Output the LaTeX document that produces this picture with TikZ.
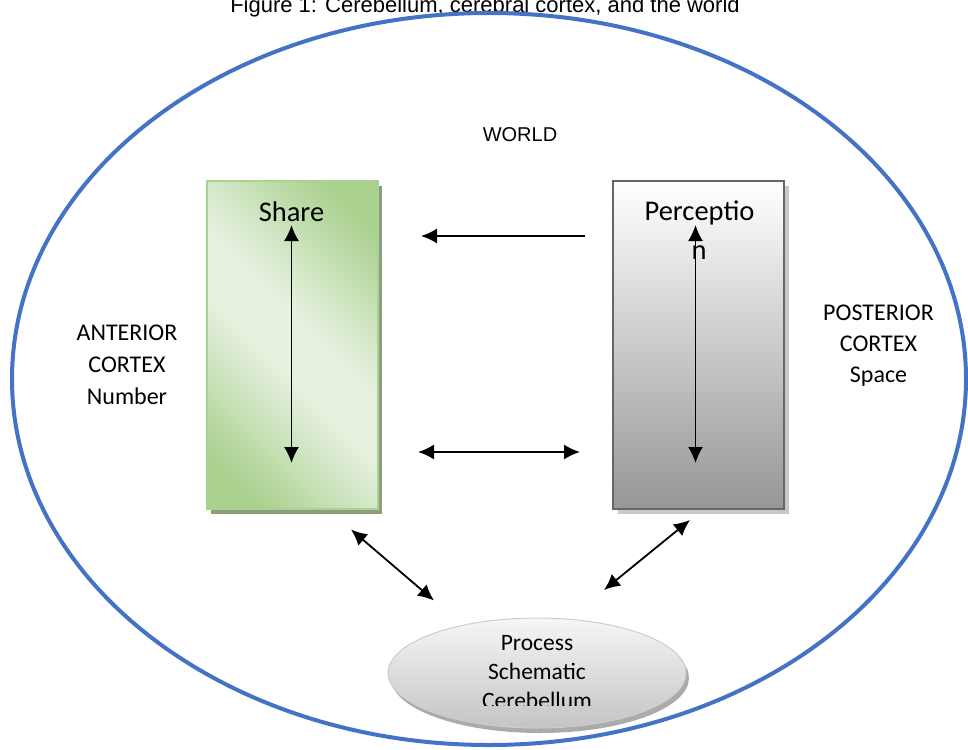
\documentclass[tikz,border=0pt]{standalone}
\usepackage{fontspec}
\setmainfont{Liberation Sans}
\newfontfamily\calib{Carlito}
\usetikzlibrary{arrows.meta,shapes.geometric,shadows}
\definecolor{worldblue}{RGB}{68,114,196}
\definecolor{gD}{RGB}{169,208,142}
\definecolor{gL}{RGB}{230,241,223}
\definecolor{gBorder}{RGB}{172,210,146}
\definecolor{gShadow}{RGB}{140,158,128}
\definecolor{pBorder}{RGB}{102,102,102}
\definecolor{pShadow}{RGB}{200,200,200}
\definecolor{pBottom}{RGB}{150,150,150}
\definecolor{eTop}{RGB}{246,246,246}
\definecolor{eBottom}{RGB}{196,196,196}
\definecolor{eBorder}{RGB}{205,205,205}
\definecolor{eShadow}{RGB}{150,150,150}
\pgfdeclarehorizontalshading{greenband}{100bp}{color(0bp)=(gD); color(22bp)=(gD); color(45bp)=(gL); color(55bp)=(gL); color(78bp)=(gD); color(100bp)=(gD)}
\begin{document}
\begin{tikzpicture}[x=1pt,y=-1pt,
  tip/.tip={Latex[length=16pt,width=15pt]},
  dblarrow/.style={line width=1.8pt,tip-tip},
  onearrow/.style={line width=1.8pt,-tip},
  lbl/.style={inner sep=0pt,anchor=base,font=\calib\fontsize{24}{30}\selectfont},
  boxlbl/.style={inner sep=0pt,anchor=base,font=\calib\fontsize{28.5}{34}\selectfont},
  elbl/.style={inner sep=0pt,anchor=base,font=\calib\fontsize{23.5}{29}\selectfont},
  greenbox/.style={rectangle,draw=gBorder,line width=2pt,minimum width=171pt,minimum height=328pt,inner sep=0pt,
    shade,shading=greenband,shading angle=45,
    drop shadow={shadow xshift=4pt,shadow yshift=-5pt,fill=gShadow,opacity=1}},
  greybox/.style={rectangle,draw=pBorder,line width=2pt,minimum width=171pt,minimum height=328pt,inner sep=0pt,
    top color=white,bottom color=pBottom,
    drop shadow={shadow xshift=5pt,shadow yshift=-5pt,fill=pShadow,opacity=1}},
  cereb/.style={ellipse,draw=eBorder,line width=1pt,minimum width=298pt,minimum height=110pt,inner sep=0pt,
    top color=eTop,bottom color=eBottom,
    drop shadow={shadow xshift=3pt,shadow yshift=-5pt,fill=eShadow,opacity=0.8}},
  world/.style={draw=worldblue,line width=4pt}]
\useasboundingbox (0,0) rectangle (968,749);
\clip (0,0) rectangle (968,749);
\fill[white] (0,0) rectangle (968,749);

% title (cut by the top edge)
\node[inner sep=0pt,anchor=base,font=\fontsize{22}{26}\selectfont] (title) at (485,12.5)
  {Figure 1: Cerebellum, cerebral cortex, and the world};

% world ellipse
\draw[world] (489,379) ellipse [x radius=477, y radius=366];
\node[inner sep=0pt,anchor=base,font=\fontsize{20}{24}\selectfont] (worldlbl) at (520,141.5) {WORLD};

% boxes
\node[greenbox] (share) at (292.5,345) {};
\node[greybox] (perc) at (698.5,345) {};

\node[boxlbl] (sharetxt) at (291.5,221.5) {Share};
\node[boxlbl] (perctxt) at (699.5,220.5) {Perceptio};
\node[boxlbl] (perctxtb) at (699,259) {n};

% side labels
\node[lbl] (ant1) at (127,340.5) {ANTERIOR};
\node[lbl] (ant2) at (127,372.5) {CORTEX};
\node[lbl] (ant3) at (127,404) {Number};
\node[lbl] (pos1) at (878.5,320) {POSTERIOR};
\node[lbl] (pos2) at (878.5,351.5) {CORTEX};
\node[lbl] (pos3) at (878.5,382) {Space};

% cerebellum ellipse
\node[cereb] (cb) at (537,673) {};
\begin{scope}
\clip (380,600) rectangle (700,705.5);
\node[elbl] (cb1) at (537,650) {Process};
\node[elbl] (cb2) at (537,679.5) {Schematic};
\node[elbl] (cb3) at (537,708.5) {Cerebellum};
\end{scope}

% arrow end points
\coordinate (sUp) at (291.5,225);
\coordinate (sDn) at (291.5,463);
\coordinate (pUp) at (695.5,225);
\coordinate (pDn) at (695.5,463);
\coordinate (tR) at (585,236);
\coordinate (tL) at (421,236);
\coordinate (bL) at (418,452);
\coordinate (bR) at (580,452);
\coordinate (dlA) at (351,529.5);
\coordinate (dlB) at (434,600.5);
\coordinate (drA) at (604,590);
\coordinate (drB) at (690,520);

\draw[dblarrow] (sUp) -- (sDn);
\draw[dblarrow] (pUp) -- (pDn);
\draw[onearrow] (tR) -- (tL);
\draw[dblarrow] (bL) -- (bR);
\draw[dblarrow] (dlA) -- (dlB);
\draw[dblarrow] (drA) -- (drB);
\end{tikzpicture}
\end{document}
